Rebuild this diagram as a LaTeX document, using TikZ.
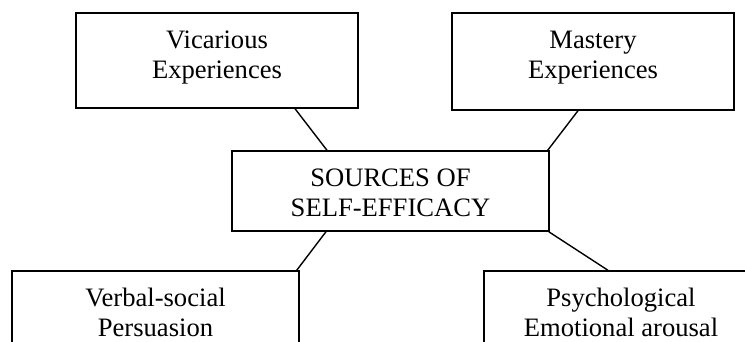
\documentclass[tikz,border=0pt]{standalone}
\usepackage{fontspec}
\setmainfont{Liberation Serif}
\begin{document}
\begin{tikzpicture}[x=1pt,y=-1pt,
  box/.style={draw=black,line width=1.4pt,fill=white,minimum width=#1,inner sep=0pt},
  lbl/.style={align=center,anchor=north,inner sep=0pt,font=\fontsize{26.6}{30.7}\selectfont},
  link/.style={draw=black,line width=1.4pt}]
\useasboundingbox (0,0) rectangle (745,342);
\clip (0,0) rectangle (745,342);
% connectors first (behind boxes)
\node[box=282pt,minimum height=95pt] (vic) at (217,60.5) {};
\node[box=282pt,minimum height=97pt] (mas) at (593,61.5) {};
\node[box=317pt,minimum height=80pt] (cen) at (390.5,191) {};
\node[box=287pt,minimum height=140pt] (ver) at (155.5,341) {};
\node[box=274pt,minimum height=140pt] (psy) at (621,341) {};
\draw[link] ([xshift=78pt]vic.south) -- ([xshift=-63.5pt]cen.north);
\draw[link] ([xshift=-15pt]mas.south) -- ([xshift=-2pt]cen.north east);
\draw[link] ([xshift=-64.5pt]cen.south) -- ([xshift=-3pt]ver.north east);
\draw[link] ([xshift=-1pt]cen.south east) -- ([xshift=-13pt]psy.north);
\node[lbl] (tvic) at (217,26.5) {\strut Vicarious\\Experiences};
\node[lbl] (tmas) at (593,26.5) {\strut Mastery\\Experiences};
\node[lbl] (tcen) at (390.5,164.5) {\strut SOURCES OF\\SELF-EFFICACY};
\node[lbl] (tver) at (155.5,284.5) {\strut Verbal-social\\Persuasion};
\node[lbl] (tpsy) at (621,284.5) {\strut Psychological\\Emotional arousal};
\end{tikzpicture}
\end{document}
